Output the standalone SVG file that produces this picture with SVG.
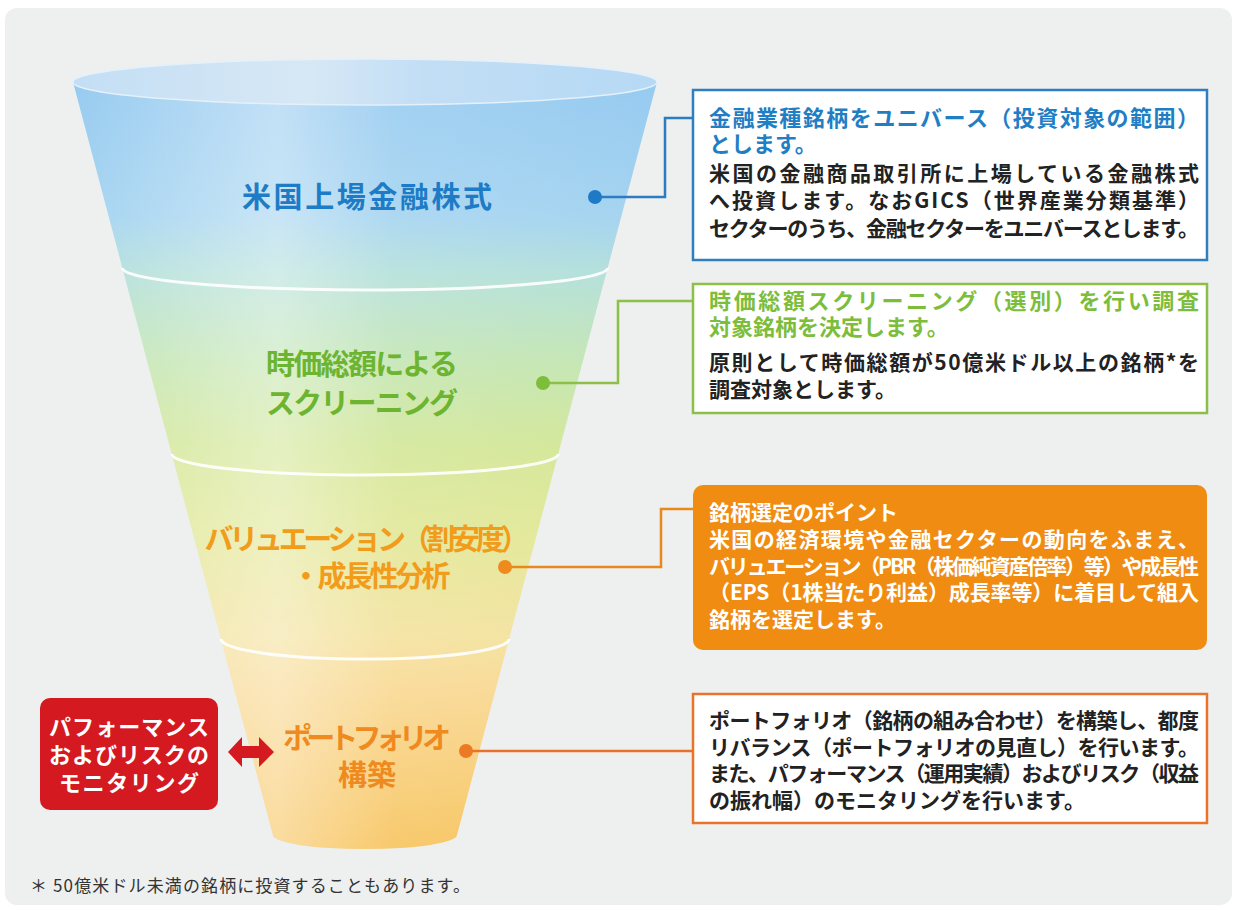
<svg xmlns="http://www.w3.org/2000/svg" width="1235" height="910" viewBox="0 0 1235 910">
<style>
.jp{font-family:"Noto Sans CJK JP","Noto Sans CJK SC",sans-serif;font-weight:bold}
.lbl{font-size:29px;text-anchor:middle}
.bt{font-size:21px;fill:#222}
.tt{font-size:22px}
.div{fill:none;stroke:#fff;stroke-width:3;stroke-opacity:0.9}
.conn{fill:none;stroke-width:2.5}
</style>
<defs>
<linearGradient id="gv" x1="0" y1="60" x2="0" y2="850" gradientUnits="userSpaceOnUse">
<stop offset="0" stop-color="#94c9f0"/>
<stop offset="0.2" stop-color="#a5d4f0"/>
<stop offset="0.27" stop-color="#b4e0da"/>
<stop offset="0.38" stop-color="#c4e6b4"/>
<stop offset="0.49" stop-color="#d3e798"/>
<stop offset="0.6" stop-color="#e2e898"/>
<stop offset="0.73" stop-color="#f4e29e"/>
<stop offset="0.8" stop-color="#f9d892"/>
<stop offset="1" stop-color="#f7c35c"/>
</linearGradient>
<linearGradient id="gh" x1="73" y1="0" x2="657" y2="0" gradientUnits="userSpaceOnUse">
<stop offset="0" stop-color="#ffffff" stop-opacity="0"/>
<stop offset="0.35" stop-color="#ffffff" stop-opacity="0.4"/>
<stop offset="0.55" stop-color="#ffffff" stop-opacity="0.1"/>
<stop offset="1" stop-color="#ffffff" stop-opacity="0"/>
</linearGradient>
<linearGradient id="gt" x1="73" y1="0" x2="657" y2="0" gradientUnits="userSpaceOnUse">
<stop offset="0" stop-color="#c3def4"/>
<stop offset="0.4" stop-color="#d7e8f5"/>
<stop offset="0.6" stop-color="#c2def5"/>
<stop offset="1" stop-color="#b6d9f4"/>
</linearGradient>
</defs>
<rect x="0" y="0" width="1235" height="910" fill="#ffffff"/>
<rect id="panel" x="5" y="8" width="1227" height="897" rx="12" fill="#eeefef"/>
<g id="funnel">
<path d="M73,82 L273,835 A92 14 0 0 0 457,835 L657,82 Z" fill="url(#gv)"/>
<path d="M73,82 L273,835 A92 14 0 0 0 457,835 L657,82 Z" fill="url(#gh)"/>
<ellipse cx="365" cy="82" rx="292" ry="23" fill="url(#gt)" stroke="#e4f0fa" stroke-width="1.5"/>
<path class="div" d="M122.4,268 A242.6 22 0 0 0 607.6,268"/>
<path class="div" d="M171.8,454 A193.2 21 0 0 0 558.2,454"/>
<path class="div" d="M221,639 A144 20 0 0 0 509,639"/>
</g>
<g id="stage1"><text class="jp lbl" x="367" y="208" fill="#1e7cc6" textLength="250">米国上場金融株式</text></g>
<g id="stage2">
<text class="jp lbl" x="362" y="375" fill="#6db531" textLength="192">時価総額による</text>
<text class="jp lbl" x="362" y="414" fill="#6db531" textLength="192">スクリーニング</text>
</g>
<g id="stage3">
<text class="jp lbl" x="367" y="550" fill="#f29c1c" textLength="325">バリュエーション（割安度）</text>
<text class="jp lbl" x="371" y="587" fill="#f29c1c" textLength="159">・成長性分析</text>
</g>
<g id="stage4">
<text class="jp lbl" x="367" y="749" fill="#ee8a1e" textLength="168">ポートフォリオ</text>
<text class="jp lbl" x="367" y="786" fill="#ee8a1e">構築</text>
</g>
<g id="connectors">
<polyline class="conn" points="595,197 665,197 665,118 693,118" stroke="#2b7dc0"/>
<circle cx="595" cy="197" r="7" fill="#1f7ac6"/>
<polyline class="conn" points="543,383 618,383 618,301 693,301" stroke="#8cc046"/>
<circle cx="543" cy="383" r="7" fill="#7cbd3a"/>
<polyline class="conn" points="505,567 661,567 661,509 693,509" stroke="#e8891e"/>
<circle cx="505" cy="567" r="7" fill="#ef8a1e"/>
<polyline class="conn" points="466,751 693,751" stroke="#e8722a"/>
<circle cx="466" cy="751" r="7" fill="#ec7a24"/>
<path id="arrow" d="M228,752 L242,737 L242,746 L259,746 L259,737 L274,752 L259,767 L259,758 L242,758 L242,767 Z" fill="#d51920"/>
</g>
<g id="box1">
<rect x="693" y="90" width="514" height="170" fill="#ffffff" stroke="#2f7fc0" stroke-width="2.5"/>
<text class="jp bt tt" x="709" y="126" style="fill:#1f7ec4" textLength="490">金融業種銘柄をユニバース（投資対象の範囲）</text>
<text class="jp bt tt" x="709" y="152" style="fill:#1f7ec4">とします。</text>
<text class="jp bt" x="709" y="181" textLength="490">米国の金融商品取引所に上場している金融株式</text>
<text class="jp bt" x="709" y="208" textLength="490">へ投資します。なおGICS（世界産業分類基準）</text>
<text class="jp bt" x="709" y="236" textLength="490">セクターのうち、金融セクターをユニバースとします。</text>
</g>
<g id="box2">
<rect x="693" y="284" width="514" height="129" fill="#ffffff" stroke="#8bbf48" stroke-width="2.5"/>
<text class="jp bt tt" x="709" y="309" style="fill:#7dbd3c" textLength="490">時価総額スクリーニング（選別）を行い調査</text>
<text class="jp bt tt" x="709" y="335" style="fill:#7dbd3c">対象銘柄を決定します。</text>
<text class="jp bt" x="709" y="370" textLength="490">原則として時価総額が50億米ドル以上の銘柄*を</text>
<text class="jp bt" x="709" y="397">調査対象とします。</text>
</g>
<g id="box3">
<rect x="693" y="485" width="514" height="165" rx="10" fill="#f08c12"/>
<text class="jp bt" x="709" y="520" style="fill:#ffffff">銘柄選定のポイント</text>
<text class="jp bt" x="709" y="547" style="fill:#ffffff" textLength="490">米国の経済環境や金融セクターの動向をふまえ、</text>
<text class="jp bt" x="709" y="574" style="fill:#ffffff" textLength="490">バリュエーション（PBR（株価純資産倍率）等）や成長性</text>
<text class="jp bt" x="709" y="600" style="fill:#ffffff" textLength="490">（EPS（1株当たり利益）成長率等）に着目して組入</text>
<text class="jp bt" x="709" y="627" style="fill:#ffffff">銘柄を選定します。</text>
</g>
<g id="box4">
<rect x="693" y="694" width="514" height="129" fill="#ffffff" stroke="#e9732b" stroke-width="2.5"/>
<text class="jp bt" x="709" y="728" textLength="490">ポートフォリオ（銘柄の組み合わせ）を構築し、都度</text>
<text class="jp bt" x="709" y="755" textLength="490">リバランス（ポートフォリオの見直し）を行います。</text>
<text class="jp bt" x="709" y="781" textLength="490">また、パフォーマンス（運用実績）およびリスク（収益</text>
<text class="jp bt" x="709" y="808">の振れ幅）のモニタリングを行います。</text>
</g>
<g id="monitor">
<rect x="40" y="698" width="178" height="112" rx="10" fill="#d51920"/>
<text class="jp" x="129" y="735" font-size="22" fill="#ffffff" text-anchor="middle" textLength="160">パフォーマンス</text>
<text class="jp" x="129" y="763" font-size="22" fill="#ffffff" text-anchor="middle" textLength="160">およびリスクの</text>
<text class="jp" x="129" y="791" font-size="22" fill="#ffffff" text-anchor="middle" textLength="140">モニタリング</text>
</g>
<text id="footnote" x="30" y="892" font-family="'Noto Sans CJK JP','Noto Sans CJK SC',sans-serif" font-size="17" fill="#333333" textLength="440">＊ 50億米ドル未満の銘柄に投資することもあります。</text>
</svg>
